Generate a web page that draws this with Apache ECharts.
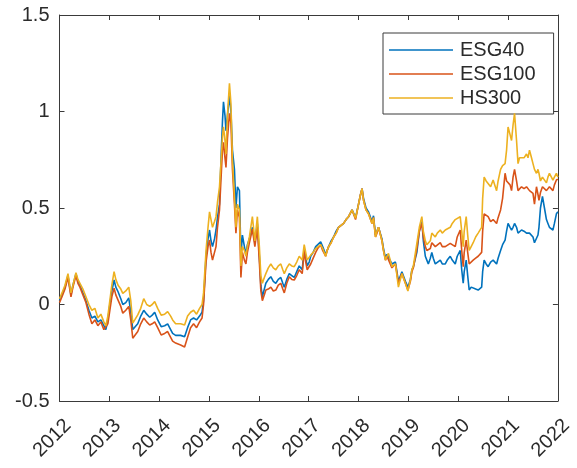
<!DOCTYPE html>
<html>
<head>
<meta charset="utf-8">
<script src="https://cdn.jsdelivr.net/npm/echarts@6/dist/echarts.min.js"></script>
<style>
  html, body { margin: 0; padding: 0; background: #ffffff; }
  #chart { width: 577px; height: 468px; }
</style>
</head>
<body>
<div id="chart"></div>
<script>
// Cumulative return, 2012–2022, sampled as fractional years
const years = [
  2012.00, 2012.05, 2012.11, 2012.17, 2012.23, 2012.27, 2012.33, 2012.37, 2012.41, 2012.47,
  2012.53, 2012.59, 2012.65, 2012.71, 2012.77, 2012.83, 2012.89, 2012.93, 2012.97, 2013.01,
  2013.05, 2013.095, 2013.13, 2013.175, 2013.23, 2013.27, 2013.33, 2013.39, 2013.43, 2013.47,
  2013.51, 2013.57, 2013.63, 2013.69, 2013.75, 2013.81, 2013.86, 2013.91, 2013.97, 2014.04,
  2014.11, 2014.17, 2014.23, 2014.27, 2014.33, 2014.37, 2014.43, 2014.47, 2014.51, 2014.57,
  2014.63, 2014.69, 2014.75, 2014.81, 2014.86, 2014.89, 2014.94, 2014.98, 2015.01, 2015.04,
  2015.07, 2015.11, 2015.14, 2015.17, 2015.21, 2015.25, 2015.27, 2015.29, 2015.32, 2015.34,
  2015.37, 2015.41, 2015.44, 2015.47, 2015.51, 2015.54, 2015.57, 2015.61, 2015.64, 2015.67,
  2015.71, 2015.74, 2015.77, 2015.81, 2015.87, 2015.92, 2015.97, 2016.01, 2016.04, 2016.07,
  2016.11, 2016.14, 2016.19, 2016.24, 2016.29, 2016.34, 2016.39, 2016.44, 2016.48, 2016.51,
  2016.56, 2016.61, 2016.66, 2016.71, 2016.76, 2016.81, 2016.87, 2016.91, 2016.94, 2016.97,
  2017.01, 2017.04, 2017.09, 2017.14, 2017.18, 2017.24, 2017.28, 2017.34, 2017.37, 2017.40,
  2017.45, 2017.50, 2017.55, 2017.60, 2017.65, 2017.70, 2017.75, 2017.80, 2017.87, 2017.94,
  2018.00, 2018.04, 2018.07, 2018.10, 2018.15, 2018.20, 2018.27, 2018.30, 2018.34, 2018.37,
  2018.40, 2018.47, 2018.50, 2018.54, 2018.57, 2018.60, 2018.67, 2018.74, 2018.80, 2018.87,
  2018.94, 2018.99, 2019.04, 2019.07, 2019.10, 2019.17, 2019.22, 2019.27, 2019.30, 2019.34,
  2019.37, 2019.40, 2019.44, 2019.47, 2019.50, 2019.54, 2019.58, 2019.64, 2019.68, 2019.74,
  2019.78, 2019.84, 2019.88, 2019.94, 2019.98, 2020.04, 2020.07, 2020.10, 2020.12, 2020.16,
  2020.19, 2020.22, 2020.26, 2020.30, 2020.35, 2020.40, 2020.47, 2020.49, 2020.52, 2020.56,
  2020.60, 2020.65, 2020.70, 2020.77, 2020.80, 2020.85, 2020.89, 2020.94, 2020.97, 2021.00,
  2021.04, 2021.07, 2021.10, 2021.13, 2021.17, 2021.20, 2021.23, 2021.27, 2021.32, 2021.37,
  2021.40, 2021.43, 2021.47, 2021.50, 2021.53, 2021.57, 2021.60, 2021.62, 2021.65, 2021.69,
  2021.73, 2021.77, 2021.80, 2021.83, 2021.87, 2021.90, 2021.93, 2021.97, 2022.00
];

const esg40 = [
  0.02, 0.05, 0.09, 0.15, 0.05, 0.10, 0.16, 0.12, 0.10, 0.06,
  0.02, -0.03, -0.07, -0.06, -0.09, -0.08, -0.11, -0.13, -0.08, 0.00,
  0.07, 0.127, 0.09, 0.066, 0.03, 0.00, 0.01, 0.034, -0.04, -0.13,
  -0.13, -0.10, -0.06, -0.03, -0.05, -0.066, -0.055, -0.04, -0.08, -0.115,
  -0.11, -0.10, -0.13, -0.15, -0.16, -0.167, -0.16, -0.167, -0.167, -0.12,
  -0.08, -0.07, -0.08, -0.06, -0.04, 0.02, 0.25, 0.34, 0.386, 0.33,
  0.30, 0.34, 0.386, 0.45, 0.52, 0.82, 0.95, 1.05, 0.98, 0.90,
  0.98, 1.08, 1.00, 0.80, 0.70, 0.50, 0.61, 0.59, 0.25, 0.36,
  0.30, 0.26, 0.31, 0.34, 0.40, 0.32, 0.42, 0.25, 0.10, 0.04,
  0.08, 0.11, 0.13, 0.144, 0.12, 0.11, 0.13, 0.14, 0.11, 0.09,
  0.13, 0.16, 0.15, 0.14, 0.17, 0.20, 0.18, 0.29, 0.24, 0.20,
  0.22, 0.25, 0.27, 0.30, 0.31, 0.325, 0.30, 0.26, 0.28, 0.30,
  0.33, 0.35, 0.38, 0.40, 0.41, 0.42, 0.44, 0.455, 0.49, 0.45,
  0.52, 0.57, 0.60, 0.55, 0.50, 0.48, 0.43, 0.46, 0.36, 0.38,
  0.40, 0.34, 0.29, 0.24, 0.26, 0.27, 0.21, 0.22, 0.12, 0.17,
  0.12, 0.09, 0.13, 0.18, 0.196, 0.27, 0.38, 0.44, 0.33, 0.25,
  0.23, 0.21, 0.24, 0.27, 0.24, 0.21, 0.22, 0.23, 0.21, 0.21,
  0.23, 0.25, 0.23, 0.21, 0.25, 0.28, 0.18, 0.11, 0.17, 0.23,
  0.15, 0.075, 0.09, 0.09, 0.08, 0.075, 0.09, 0.17, 0.23, 0.21,
  0.196, 0.22, 0.23, 0.21, 0.24, 0.28, 0.31, 0.334, 0.38, 0.42,
  0.40, 0.386, 0.40, 0.42, 0.40, 0.37, 0.38, 0.386, 0.38, 0.37,
  0.36, 0.37, 0.36, 0.35, 0.32, 0.33, 0.36, 0.40, 0.50, 0.56,
  0.50, 0.44, 0.42, 0.40, 0.39, 0.386, 0.42, 0.47, 0.48
];

const esg100 = [
  0.01, 0.04, 0.08, 0.14, 0.04, 0.09, 0.15, 0.11, 0.09, 0.05,
  0.01, -0.05, -0.10, -0.08, -0.11, -0.09, -0.13, -0.14, -0.10, -0.03,
  0.04, 0.085, 0.05, 0.023, -0.01, -0.045, -0.03, -0.01, -0.08, -0.175,
  -0.17, -0.14, -0.10, -0.07, -0.09, -0.106, -0.10, -0.09, -0.12, -0.158,
  -0.15, -0.14, -0.17, -0.19, -0.20, -0.21, -0.21, -0.215, -0.22, -0.17,
  -0.12, -0.10, -0.12, -0.09, -0.07, 0.00, 0.22, 0.30, 0.334, 0.27,
  0.23, 0.27, 0.30, 0.40, 0.49, 0.70, 0.80, 0.84, 0.76, 0.71,
  0.86, 0.99, 0.94, 0.70, 0.52, 0.37, 0.49, 0.45, 0.14, 0.27,
  0.23, 0.21, 0.27, 0.32, 0.39, 0.30, 0.40, 0.22, 0.07, 0.02,
  0.05, 0.075, 0.08, 0.09, 0.07, 0.075, 0.10, 0.11, 0.08, 0.06,
  0.11, 0.144, 0.13, 0.127, 0.15, 0.18, 0.16, 0.28, 0.22, 0.18,
  0.19, 0.21, 0.24, 0.27, 0.29, 0.31, 0.28, 0.25, 0.28, 0.30,
  0.32, 0.35, 0.37, 0.40, 0.41, 0.42, 0.44, 0.455, 0.49, 0.44,
  0.52, 0.57, 0.60, 0.54, 0.49, 0.47, 0.42, 0.45, 0.35, 0.37,
  0.40, 0.33, 0.28, 0.23, 0.25, 0.26, 0.19, 0.21, 0.11, 0.16,
  0.11, 0.075, 0.12, 0.17, 0.19, 0.29, 0.38, 0.42, 0.35, 0.30,
  0.28, 0.27, 0.29, 0.32, 0.31, 0.30, 0.31, 0.32, 0.30, 0.30,
  0.31, 0.317, 0.31, 0.30, 0.35, 0.386, 0.28, 0.196, 0.27, 0.334,
  0.27, 0.21, 0.22, 0.23, 0.24, 0.25, 0.27, 0.38, 0.47, 0.46,
  0.455, 0.43, 0.44, 0.42, 0.45, 0.49, 0.55, 0.68, 0.64, 0.645,
  0.62, 0.59, 0.66, 0.70, 0.64, 0.59, 0.60, 0.61, 0.60, 0.61,
  0.60, 0.59, 0.58, 0.576, 0.52, 0.61, 0.57, 0.54, 0.58, 0.61,
  0.60, 0.59, 0.60, 0.61, 0.60, 0.59, 0.62, 0.645, 0.65
];

const hs300 = [
  0.03, 0.06, 0.10, 0.16, 0.06, 0.10, 0.165, 0.13, 0.11, 0.08,
  0.04, 0.00, -0.03, -0.02, -0.07, -0.05, -0.09, -0.11, -0.06, 0.02,
  0.10, 0.17, 0.13, 0.10, 0.08, 0.058, 0.07, 0.09, 0.02, -0.096,
  -0.08, -0.054, -0.02, 0.03, 0.00, -0.01, 0.00, 0.015, -0.02, -0.055,
  -0.05, -0.037, -0.06, -0.08, -0.10, -0.106, -0.10, -0.106, -0.106, -0.06,
  -0.04, -0.03, -0.05, -0.02, 0.00, 0.06, 0.28, 0.40, 0.48, 0.44,
  0.40, 0.43, 0.455, 0.53, 0.61, 0.78, 0.87, 0.92, 0.85, 0.78,
  0.98, 1.146, 1.04, 0.75, 0.56, 0.40, 0.52, 0.49, 0.20, 0.30,
  0.28, 0.25, 0.30, 0.35, 0.455, 0.33, 0.455, 0.30, 0.15, 0.11,
  0.14, 0.16, 0.19, 0.21, 0.19, 0.18, 0.20, 0.21, 0.18, 0.16,
  0.19, 0.21, 0.20, 0.196, 0.22, 0.25, 0.23, 0.31, 0.27, 0.23,
  0.24, 0.256, 0.27, 0.29, 0.30, 0.31, 0.29, 0.25, 0.28, 0.30,
  0.32, 0.35, 0.37, 0.40, 0.41, 0.42, 0.44, 0.455, 0.49, 0.447,
  0.52, 0.57, 0.60, 0.54, 0.49, 0.47, 0.42, 0.45, 0.35, 0.38,
  0.40, 0.33, 0.28, 0.23, 0.25, 0.265, 0.196, 0.21, 0.09, 0.16,
  0.11, 0.07, 0.127, 0.18, 0.20, 0.317, 0.40, 0.455, 0.38, 0.33,
  0.31, 0.30, 0.33, 0.37, 0.36, 0.35, 0.37, 0.386, 0.37, 0.386,
  0.39, 0.40, 0.42, 0.44, 0.45, 0.455, 0.38, 0.30, 0.38, 0.455,
  0.36, 0.28, 0.30, 0.32, 0.35, 0.37, 0.40, 0.55, 0.66, 0.64,
  0.63, 0.61, 0.645, 0.59, 0.64, 0.70, 0.72, 0.73, 0.80, 0.92,
  0.88, 0.85, 0.93, 0.99, 0.85, 0.73, 0.76, 0.75, 0.76, 0.78,
  0.76, 0.80, 0.76, 0.73, 0.70, 0.68, 0.70, 0.68, 0.64, 0.66,
  0.65, 0.63, 0.66, 0.68, 0.66, 0.645, 0.66, 0.68, 0.66
];

const seriesNames = ['ESG40', 'ESG100', 'HS300'];
const seriesColors = ['#0072BD', '#D95319', '#EDB120'];
const seriesValues = [esg40, esg100, hs300];

const xTicks = { min: 2012, max: 2022, step: 1 };
const yTicks = { min: -0.5, max: 1.5, step: 0.5 };

const axisColor = '#3a3a3a';
const textColor = '#2b2b2b';
const font = 'Liberation Sans, Arial, Helvetica, sans-serif';

const chart = echarts.init(document.getElementById('chart'), null, { renderer: 'canvas' });

function xAxisCfg(pos, showLabels) {
  return {
    type: 'value',
    position: pos,
    min: xTicks.min, max: xTicks.max, interval: xTicks.step,
    axisLine: { show: true, onZero: false, lineStyle: { color: axisColor, width: 1 } },
    axisTick: { show: true, inside: true, length: 5, lineStyle: { color: axisColor } },
    splitLine: { show: false },
    axisLabel: showLabels ? {
      show: true,
      rotate: 45,
      margin: 13,
      verticalAlign: 'top',
      lineHeight: 24,
      color: textColor,
      fontFamily: font,
      fontSize: 20,
      formatter: v => String(Math.round(v))
    } : { show: false }
  };
}

function yAxisCfg(pos, showLabels) {
  return {
    type: 'value',
    position: pos,
    min: yTicks.min, max: yTicks.max, interval: yTicks.step,
    axisLine: { show: true, onZero: false, lineStyle: { color: axisColor, width: 1 } },
    axisTick: { show: true, inside: true, length: 5, lineStyle: { color: axisColor } },
    splitLine: { show: false },
    axisLabel: showLabels ? {
      show: true,
      margin: 10,
      color: textColor,
      fontFamily: font,
      fontSize: 20,
      formatter: v => String(v)
    } : { show: false }
  };
}

chart.setOption({
  animation: false,
  backgroundColor: '#ffffff',
  grid: { left: 59.5, right: 17, top: 15, bottom: 67, containLabel: false },
  xAxis: [xAxisCfg('bottom', true), xAxisCfg('top', false)],
  yAxis: [yAxisCfg('left', true), yAxisCfg('right', false)],
  legend: {
    orient: 'vertical',
    left: 383,
    top: 33,
    padding: [7, 18, 6, 6],
    itemWidth: 64,
    itemHeight: 1.5,
    itemGap: 4,
    icon: 'rect',
    backgroundColor: '#ffffff',
    borderColor: axisColor,
    borderWidth: 1,
    borderRadius: 0,
    textStyle: { color: textColor, fontFamily: font, fontSize: 20, lineHeight: 20, padding: [0, 0, 0, 2] },
    data: seriesNames
  },
  series: seriesNames.map((name, i) => ({
    name,
    type: 'line',
    xAxisIndex: 0,
    yAxisIndex: 0,
    showSymbol: false,
    symbol: 'none',
    color: seriesColors[i],
    lineStyle: { width: 1.6, color: seriesColors[i] },
    z: 2 + i,
    data: years.map((x, k) => [x, seriesValues[i][k]])
  }))
});
</script>
</body>
</html>
